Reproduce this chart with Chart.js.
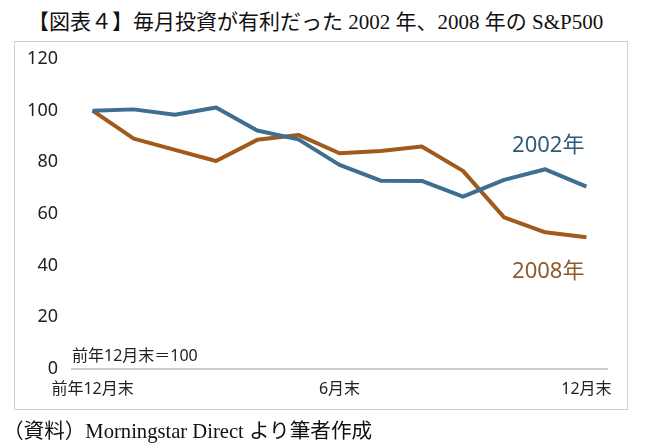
<!DOCTYPE html>
<html>
<head>
<meta charset="utf-8">
<script src="https://cdn.jsdelivr.net/npm/chart.js@4"></script>
<style>
  html, body { margin: 0; padding: 0; background: #fff; }
  body { width: 645px; height: 447px; position: relative; overflow: hidden; }
  #title { position: absolute; left: 28px; top: 8px; font-family: "Liberation Serif", "Noto Sans CJK JP", serif; font-size: 21px; color: #111; white-space: nowrap; line-height: 28px; }
  #footer { position: absolute; left: 3px; top: 418px; font-family: "Liberation Serif", "Noto Sans CJK JP", serif; font-size: 20.6px; color: #111; white-space: nowrap; line-height: 26px; }
  #box { position: absolute; left: 14px; top: 41px; width: 614px; height: 369px; border: 1.5px solid #cfcfcf; box-sizing: border-box; }
  #wrap { position: absolute; left: 0; top: 0; width: 645px; height: 447px; }
</style>
</head>
<body>
<div id="title">【図表４】毎月投資が有利だった 2002 年、2008 年の S&amp;P500</div>
<div id="box"></div>
<div id="wrap"><canvas id="c" width="645" height="447"></canvas></div>
<div id="footer">（資料）Morningstar Direct より筆者作成</div>
<script>
const months = ['前年12月末','1月末','2月末','3月末','4月末','5月末','6月末','7月末','8月末','9月末','10月末','11月末','12月末'];
const shownTickIdx = [0, 6, 12];
const s2002 = [100, 100.5, 98.4, 101.2, 92.3, 88.9, 79.0, 72.9, 72.8, 66.7, 73.2, 77.3, 70.6];
const s2008 = [100, 89.2, 84.8, 80.5, 88.7, 90.6, 83.5, 84.4, 86.1, 76.7, 58.7, 52.9, 51.0];
const yTicks = [0, 20, 40, 60, 80, 100, 120];
const seriesNames = ['2002年', '2008年'];
const noteText = '前年12月末＝100';

const FONT = '"Noto Sans", "Noto Sans CJK JP", sans-serif';

const labelPlugin = {
  id: 'labels',
  afterDraw(chart) {
    const ctx = chart.ctx;
    const x = chart.scales.x, y = chart.scales.y;
    ctx.save();
    ctx.font = '22px ' + FONT;
    ctx.textAlign = 'center';
    ctx.textBaseline = 'middle';
    ctx.fillStyle = '#2d5b7a';
    ctx.fillText(seriesNames[0], x.getPixelForValue(11) + 3, y.getPixelForValue(86.5));
    ctx.fillStyle = '#8c5a2c';
    ctx.fillText(seriesNames[1], x.getPixelForValue(11) + 3, y.getPixelForValue(37.6));
    ctx.font = '16px ' + FONT;
    ctx.textAlign = 'left';
    ctx.fillStyle = '#222';
    ctx.fillText(noteText, chart.chartArea.left, y.getPixelForValue(4.7));
    ctx.restore();
  }
};

new Chart(document.getElementById('c'), {
  type: 'line',
  data: {
    labels: months,
    datasets: [
      { label: seriesNames[0], data: s2002, borderColor: '#3e6e90', borderWidth: 4, pointRadius: 0, tension: 0, fill: false, borderJoinStyle: 'round' },
      { label: seriesNames[1], data: s2008, borderColor: '#9f5a1c', borderWidth: 4, pointRadius: 0, tension: 0, fill: false, borderJoinStyle: 'round' }
    ]
  },
  options: {
    responsive: false,
    animation: false,
    devicePixelRatio: 1,
    layout: { padding: { left: 12, right: 38, top: 59, bottom: 48 } },
    plugins: { legend: { display: false }, tooltip: { enabled: false }, title: { display: false } },
    scales: {
      x: {
        type: 'category',
        offset: true,
        grid: { display: false, drawTicks: false },
        border: { display: true, color: '#cccccc', width: 2 },
        ticks: {
          autoSkip: false, maxRotation: 0, padding: 11,
          color: '#222', font: { family: FONT, size: 16 },
          callback: (v, i) => shownTickIdx.includes(i) ? months[i] : ''
        },
        afterFit: (s) => { s.height = 30; }
      },
      y: {
        min: yTicks[0], max: yTicks[yTicks.length - 1],
        grid: { display: false, drawTicks: false },
        border: { display: false },
        afterBuildTicks: (s) => { s.ticks = yTicks.map(v => ({ value: v })); },
        ticks: { padding: 14, color: '#222', font: { family: FONT, size: 18 } },
        afterFit: (s) => { s.width = 60; }
      }
    }
  },
  plugins: [labelPlugin]
});
</script>
</body>
</html>
